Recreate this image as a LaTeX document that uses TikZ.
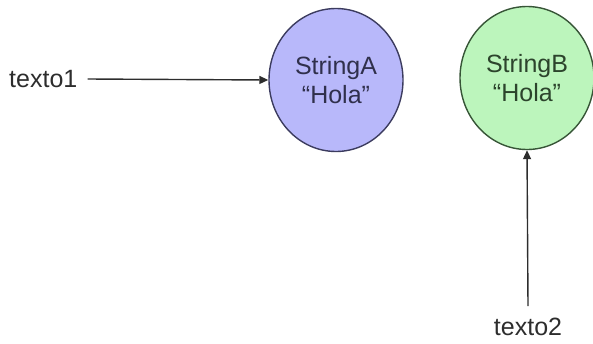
\documentclass[tikz,border=0pt]{standalone}
\usepackage{fontspec}
\setmainfont{Liberation Sans}
\usetikzlibrary{arrows.meta,shapes.geometric}
\definecolor{fillA}{RGB}{184,184,250}
\definecolor{lineA}{RGB}{60,60,95}
\definecolor{fillB}{RGB}{188,245,188}
\definecolor{lineB}{RGB}{55,85,55}
\definecolor{txt}{RGB}{45,45,45}
\tikzset{
  strnode/.style={ellipse, minimum width=134pt, minimum height=143pt, line width=1.4pt, inner sep=0pt,
    align=center, font=\fontsize{25}{29}\selectfont},
  lbl/.style={font=\fontsize{25}{29}\selectfont, text=txt, inner sep=0pt},
  ptr/.style={line width=1.4pt, draw=txt, -{Triangle[length=9pt,width=8pt]}}
}
\begin{document}
\begin{tikzpicture}[x=1pt,y=-1pt]
\useasboundingbox (0,0) rectangle (593,343);
\node[strnode, fill=fillA, draw=lineA, text=lineA!80!black] (a) at (336,80) {StringA\\“Hola”};
\node[strnode, fill=fillB, draw=lineB, text=lineB!80!black] (b) at (527,78) {StringB\\“Hola”};
\node[lbl, anchor=west] (t1) at (9,79) {texto1};
\node[lbl, anchor=north] (t2) at (528,318) {texto2};
\draw[ptr] ([xshift=10pt]t1.east) -- (a.west);
\draw[ptr] ([yshift=12pt]t2.north) -- (b.south);
\end{tikzpicture}
\end{document}
